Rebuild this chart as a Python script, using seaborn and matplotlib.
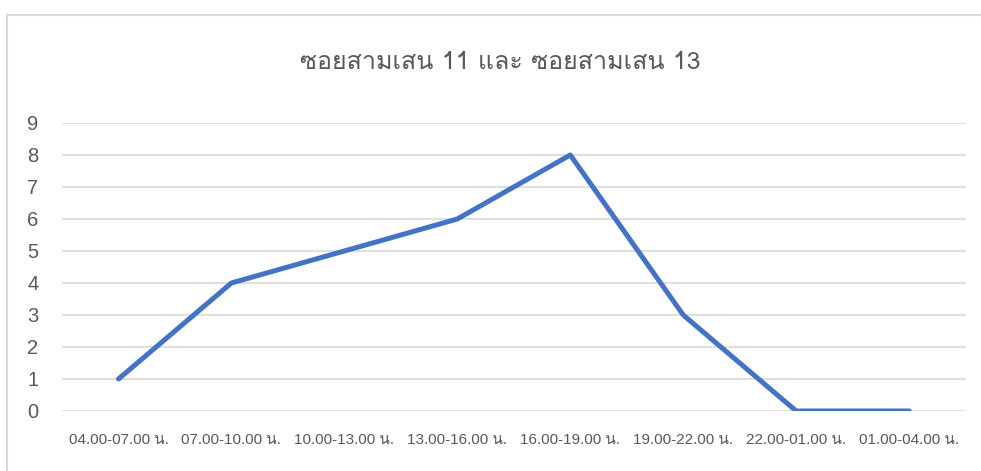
import matplotlib
matplotlib.use('Agg')
import matplotlib.pyplot as plt
import pandas as pd
import seaborn as sns
from matplotlib import font_manager
from matplotlib.ft2font import FT2Font
from matplotlib.lines import Line2D

# Data
periods = ['04.00-07.00 น.', '07.00-10.00 น.', '10.00-13.00 น.', '13.00-16.00 น.',
           '16.00-19.00 น.', '19.00-22.00 น.', '22.00-01.00 น.', '01.00-04.00 น.']
counts = [1, 4, 5, 6, 8, 3, 0, 0]
title = 'ซอยสามเสน 11 และ ซอยสามเสน 13'

df = pd.DataFrame({'period': periods, 'count': counts})
df['pos'] = range(len(df))

# look for a font that has Thai glyphs
thai_font = None
for f in font_manager.fontManager.ttflist:
    try:
        if 0x0E0B in FT2Font(f.fname).get_charmap():
            thai_font = f.name
            break
    except Exception:
        pass

sns.set_style('white')
fams = ['DejaVu Sans']
if thai_font:
    fams = [thai_font, 'DejaVu Sans']
plt.rcParams['font.family'] = ['Liberation Sans'] + fams

fig = plt.figure(figsize=(9.81, 4.71), dpi=100)
ax = fig.add_axes([0.0632, 0.1274, 0.9211, 0.6115])

sns.lineplot(data=df, x='pos', y='count', ax=ax, color='#4472C4',
             linewidth=3.6, solid_capstyle='round', solid_joinstyle='round')

ax.set_xlim(-0.5, 7.5)
ax.set_ylim(0, 9)
ax.set_yticks(range(0, 10))
ax.set_xticks(range(len(periods)))
ax.set_xticklabels(periods, fontsize=11, color='#595959')
ax.tick_params(axis='y', labelsize=14.5, labelcolor='#595959', length=0, pad=17)
ax.tick_params(axis='x', length=0, pad=16)
ax.yaxis.grid(True, color='#D9D9D9', linewidth=1.2)
ax.set_axisbelow(True)
for s in ax.spines.values():
    s.set_visible(False)
ax.set_xlabel('')
ax.set_ylabel('')

fig.text(0.51, 0.868, title, ha='center', va='center', fontsize=18,
         color='#595959', family=fams)

# chart frame
fig.add_artist(Line2D([7 / 981, 7 / 981], [0, 1 - 15 / 471], transform=fig.transFigure,
                      color='#D9D9D9', linewidth=1.5))
fig.add_artist(Line2D([7 / 981, 1], [1 - 15 / 471, 1 - 15 / 471], transform=fig.transFigure,
                      color='#D9D9D9', linewidth=1.5))

fig.savefig('out.png', dpi=100)
